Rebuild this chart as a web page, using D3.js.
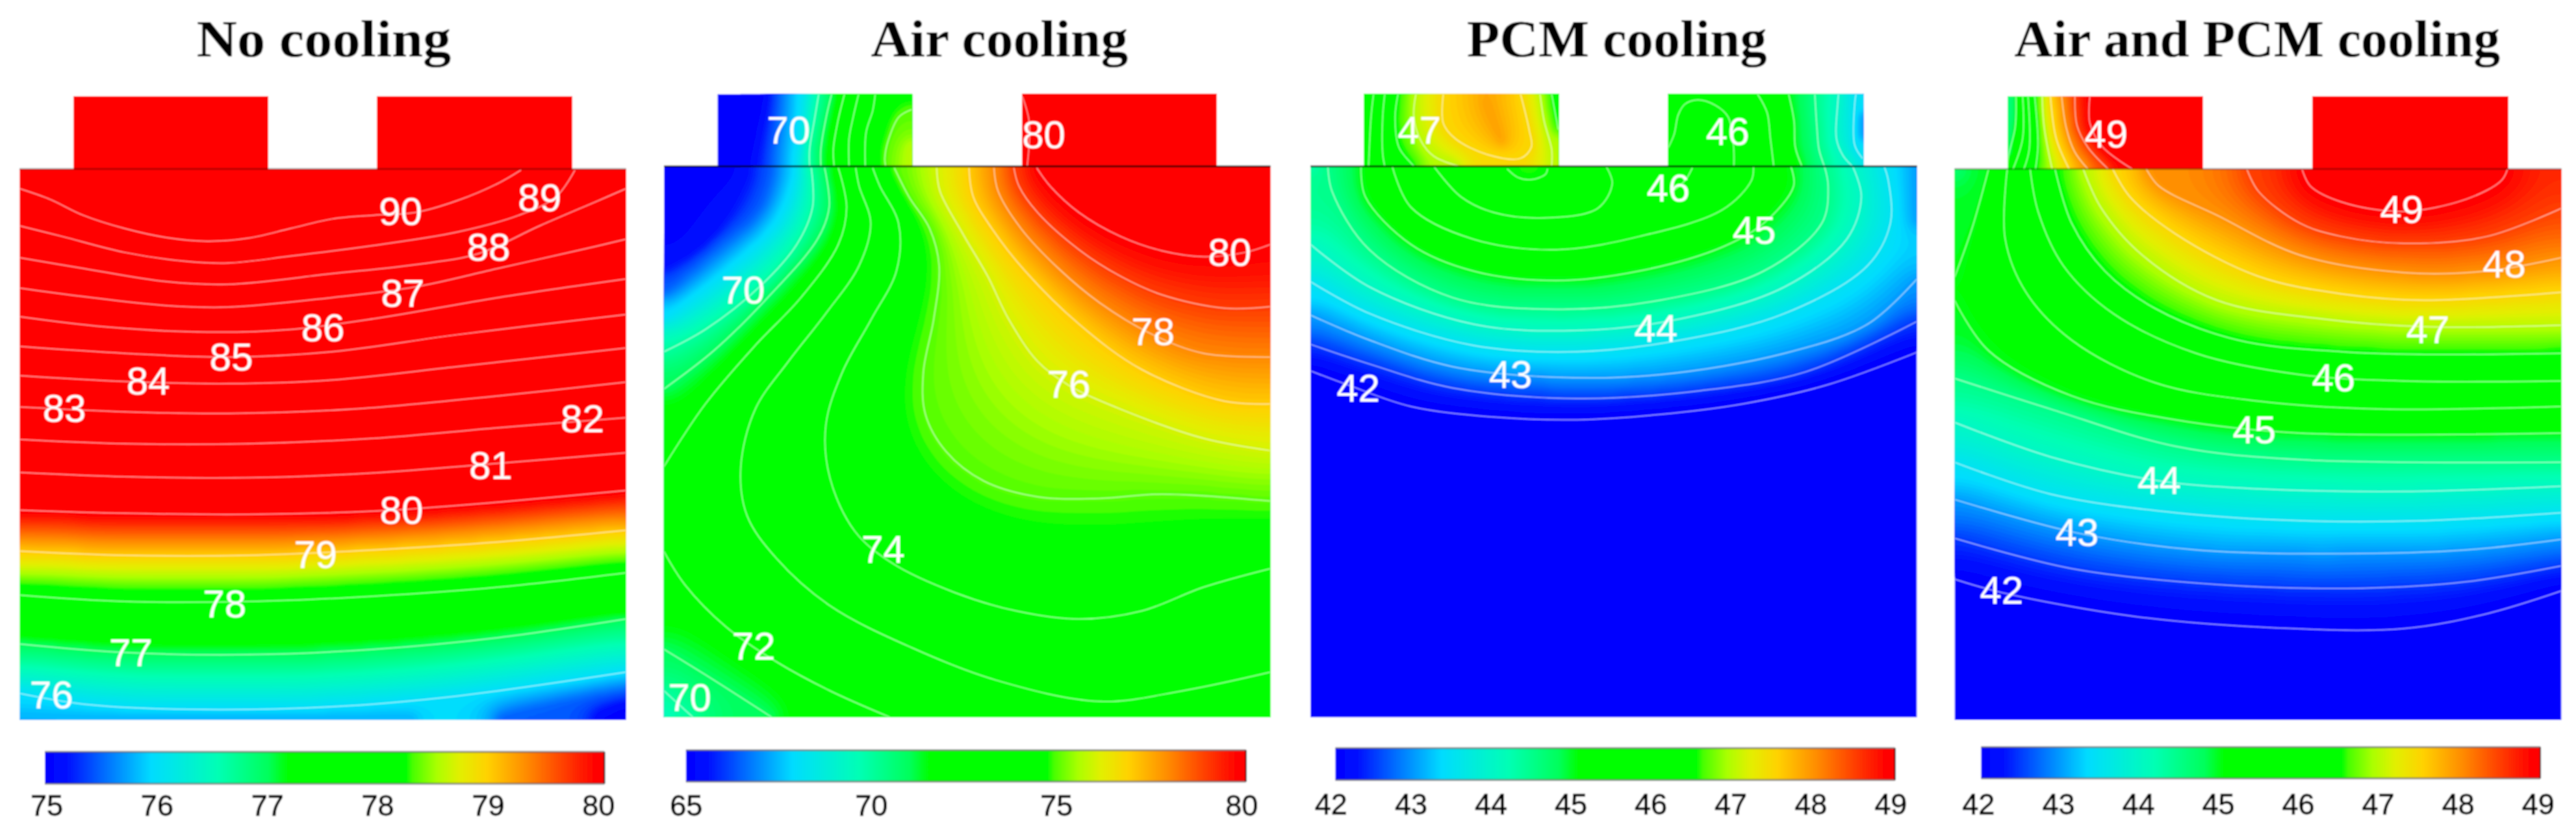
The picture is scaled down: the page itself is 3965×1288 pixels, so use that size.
<!DOCTYPE html>
<html><head><meta charset="utf-8">
<script src="https://cdnjs.cloudflare.com/ajax/libs/d3/7.8.5/d3.min.js"></script>
<style>html,body{margin:0;padding:0;background:#fff}svg{display:block}</style>
</head><body>
<svg id="chart" width="3965" height="1288"></svg>
<script>
// Colour map (position along bar -> colour)
const colorPositions = [0, .04, .10, .19, .31, .40, .435, .645, .657, .70, .74, .79, .86, .93, .985, 1];
const colorValues = ["#0000ff","#0010ff","#0064ff","#00dcff","#00ffb4","#00ff5a","#00ff00","#00ff00","#48ff00","#aaff00","#e1f000","#ffd200","#ff8c00","#ff3c00","#ff0000","#ff0000"];

const titles = ["No cooling", "Air cooling", "PCM cooling", "Air and PCM cooling"];
const colorRanges = [[75, 80], [65, 80], [42, 49], [42, 49]];
const ticks1 = [75, 76, 77, 78, 79, 80];
const ticks2 = [65, 70, 75, 80];
const ticks3 = [42, 43, 44, 45, 46, 47, 48, 49];
const ticks4 = [42, 43, 44, 45, 46, 47, 48, 49];

// ---- Isotherms: [level, [[x,y]...]] in reading units of each panel ----
const noCoolingField = [
 [90,[[47,355],[120,375],[200,405],[300,430],[400,447],[500,454],[600,448],[700,430],[800,412],[900,405],[1000,400],[1100,378],[1200,345],[1255,320]]],
 [89,[[47,425],[150,445],[300,475],[450,492],[550,495],[700,482],[900,462],[1100,437],[1250,405],[1340,370],[1385,320]]],
 [88,[[47,485],[200,505],[400,530],[550,535],[800,515],[1000,498],[1150,478],[1300,425],[1440,378],[1508,355]]],
 [87,[[47,542],[200,558],[400,575],[550,578],[800,560],[1000,540],[1200,505],[1400,470],[1508,450]]],
 [86,[[47,596],[250,615],[500,625],[700,620],[900,600],[1200,560],[1508,525]]],
 [85,[[47,652],[300,665],[550,672],[800,662],[1100,630],[1508,592]]],
 [84,[[47,707],[300,718],[550,722],[800,715],[1100,690],[1508,655]]],
 [83,[[47,766],[300,775],[550,778],[850,770],[1200,745],[1508,719]]],
 [82,[[47,827],[300,835],[600,835],[900,825],[1200,805],[1508,786]]],
 [81,[[47,889],[300,897],[600,899],[900,890],[1200,872],[1508,852]]],
 [80,[[47,960],[300,966],[600,968],[900,962],[1200,945],[1508,923]]],
 [79,[[47,1037],[300,1045],[600,1045],[900,1035],[1200,1020],[1508,998]]],
 [78,[[47,1120],[300,1132],[600,1132],[900,1122],[1200,1105],[1508,1078]]],
 [77,[[47,1212],[300,1228],[600,1232],[900,1222],[1200,1200],[1508,1165]]],
 [76,[[47,1305],[200,1325],[450,1335],[800,1330],[1100,1310],[1508,1265]]]
];
const noCoolingShades = [
 [75.8,[[47,1352],[1000,1352]]],
 [75.5,[[1200,1352],[1380,1320],[1508,1300]]],
 [75.1,[[1440,1352],[1508,1330]]],
 [75,[[1505,1352]]]
];
const noCoolingCellL = [];
const noCoolingShadesL = [[90,[[177,181],[645,318]]]];
const noCoolingCellR = [];
const noCoolingShadesR = [[90,[[909,181],[1378,318]]]];

const airField = [
 [80,[[948,316],[980,350],[1050,400],[1150,445],[1250,472],[1350,483],[1450,475],[1511,460]]],
 [79,[[893,316],[905,350],[950,400],[1050,470],[1150,520],[1250,555],[1400,580],[1511,577]]],
 [78,[[845,316],[855,360],[910,430],[1000,505],[1100,570],[1228,630],[1350,665],[1511,672]]],
 [77,[[785,316],[795,370],[840,430],[920,510],[1050,610],[1200,695],[1400,755],[1511,760]]],
 [76,[[707,316],[715,360],[770,440],[830,520],[880,600],[950,680],[1025,725],[1150,770],[1350,825],[1511,848]]],
 [75,[[605,316],[640,370],[690,430],[713,500],[700,600],[675,700],[680,780],[730,850],[820,905],[950,935],[1100,938],[1250,930],[1511,943]]],
 [74,[[553,316],[570,350],[615,420],[610,510],[550,600],[480,700],[440,800],[450,900],[510,1000],[600,1060],[750,1115],[900,1150],[1050,1165],[1200,1150],[1350,1105],[1511,1070]]],
 [73,[[512,316],[520,350],[548,420],[520,500],[440,590],[350,680],[270,770],[235,880],[250,970],[320,1050],[450,1140],[650,1220],[850,1280],[1100,1320],[1300,1300],[1511,1265]]],
 [72,[[470,316],[490,390],[470,460],[380,560],[270,650],[150,760],[50,878]]],
 [72,[[50,1038],[100,1100],[200,1180],[320,1245],[450,1300],[595,1350]]],
 [71,[[437,316],[448,390],[420,450],[300,560],[170,660],[50,732]]],
 [71,[[50,1222],[150,1270],[310,1350]]],
 [70,[[405,316],[408,390],[370,460],[280,540],[150,620],[50,662]]],
 [70,[[50,1300],[120,1350]]]
];
const airShades = [
 [65,[[50,316],[50,440]]],
 [65,[[50,316],[200,316]]],
 [65.5,[[50,500],[150,450],[220,370],[250,316]]],
 [66.5,[[50,550],[170,470],[280,390],[310,316]]],
 [68,[[50,600],[200,510],[320,420],[365,330],[365,316]]],
 [69.6,[[50,1345],[70,1350]]],
 [84,[[1200,316],[1511,316]]]
];
const airCellL = [
 [70,[[423,177],[412,228],[401,281],[401,313]]],
 [71,[[454,177],[441,220],[428,281],[428,313]]],
 [72,[[485,177],[469,228],[458,281],[460,313]]],
 [73,[[519,177],[506,220],[496,261],[496,313]]],
 [74,[[559,177],[553,208],[537,249],[535,313]]],
 [75,[[647,206],[616,220],[590,265],[582,298],[584,313]]]
];
const airShadesL = [
 [65,[[179,177],[179,313]]],
 [65.2,[[290,177],[250,313]]],
 [68.2,[[386,177],[370,313]]],
 [74.6,[[600,177],[646,177]]],
 [75.8,[[646,270],[646,313]]]
];
const airCellR = [[80,[[913,181],[930,230],[925,313]]]];
const airShadesR = [[84,[[1381,177],[1381,313]]]];

const pcmField = [
 [42,[[58,698],[150,725],[300,765],[500,785],[700,790],[900,780],[1100,760],[1300,725],[1519,663]]],
 [42.5,[[58,648],[200,685],[400,730],[700,750],[1000,735],[1250,700],[1519,605]]],
 [43,[[58,593],[200,640],[400,690],[650,710],[900,705],[1200,665],[1400,610],[1519,525]]],
 [43.5,[[58,530],[200,590],[450,650],[700,662],[950,640],[1200,590],[1400,500],[1455,420],[1450,340],[1440,313]]],
 [44,[[58,460],[200,540],[450,610],[700,622],[950,600],[1200,540],[1350,450],[1385,370],[1364,313]]],
 [44.5,[[100,313],[110,360],[200,470],[400,560],[650,582],[900,565],[1150,510],[1290,420],[1305,350],[1296,313]]],
 [45,[[180,313],[190,370],[300,460],[450,510],[650,528],[850,510],[1050,465],[1150,420],[1222,350],[1215,313]]],
 [45.5,[[255,313],[300,390],[450,450],[650,470],[850,445],[1050,395],[1120,340],[1125,313]]],
 [46,[[355,313],[420,370],[500,400],[620,410],[750,392],[785,345],[770,313]]],
 [46,[[978,316],[960,340],[930,360]]],
 [46.5,[[532,318],[558,334],[590,338],[624,328],[629,318]]]
];
const pcmShades = [
 [44.2,[[58,315]]],
 [43,[[1519,315],[1519,420]]],
 [46.6,[[570,316],[600,316]]],
 [42,[[58,850],[1519,850]]],
 [42,[[58,1100],[1519,1100]]],
 [42,[[58,1345],[1519,1345]]]
];
const pcmCellL = [
 [45.5,[[210,177],[204,220],[198,314]]],
 [46,[[237,177],[232,220],[232,289],[237,313]]],
 [46.5,[[269,177],[262,220],[271,277],[308,313]]],
 [47,[[312,177],[307,220],[324,265],[355,294],[417,313]]],
 [47.5,[[378,177],[378,232],[407,261],[485,291],[564,298],[590,277],[585,245],[564,177]]],
 [47,[[611,177],[621,228],[639,281],[639,313]]],
 [46.5,[[639,177],[655,244]]]
];
const pcmShadesL = [
 [45.2,[[187,177],[187,313]]],
 [47.9,[[480,190],[520,270]]]
];
const pcmCellR = [
 [46,[[919,279],[934,253],[944,216],[960,196],[991,188],[1033,198],[1064,220],[1077,273],[1078,313]]],
 [45.5,[[1135,177],[1158,212],[1166,261],[1174,313]]],
 [45,[[1210,177],[1223,228],[1226,277],[1242,313]]],
 [44.5,[[1273,177],[1278,240],[1283,281],[1296,313]]],
 [44,[[1330,177],[1328,196],[1325,261],[1341,293],[1364,313]]],
 [43.5,[[1372,177],[1369,196],[1369,273],[1388,298]]]
];
const pcmShadesR = [
 [46.2,[[1000,250]]],
 [43,[[1388,220],[1388,260]]]
];

const bothField = [
 [49,[[905,318],[925,350],[1000,380],[1145,398],[1300,375],[1385,340],[1400,318]]],
 [48.5,[[772,318],[800,360],[900,420],[1000,445],[1150,458],[1350,445],[1530,392]]],
 [48,[[530,318],[560,350],[700,405],[900,480],[1150,513],[1350,510],[1530,485]]],
 [47.5,[[449,318],[490,370],[600,440],[800,520],[1000,553],[1200,565],[1530,550]]],
 [47,[[378,318],[420,390],[520,480],[700,565],[950,600],[1200,615],[1530,612]]],
 [46.5,[[310,318],[350,420],[430,510],[550,580],[750,640],[1000,662],[1200,667],[1530,665]]],
 [46,[[250,318],[270,400],[330,500],[450,590],[650,665],[900,705],[1150,717],[1530,717]]],
 [45.5,[[195,318],[190,450],[240,550],[350,640],[550,720],[800,755],[1100,770],[1530,765]]],
 [45,[[150,318],[110,430],[68,522]]],
 [45,[[68,565],[150,660],[350,745],[600,790],[900,815],[1530,815]]],
 [44.5,[[68,712],[300,770],[600,840],[900,865],[1530,870]]],
 [44,[[68,795],[300,860],[561,905],[800,920],[1150,925],[1530,915]]],
 [43.5,[[68,870],[300,930],[600,965],[900,980],[1200,980],[1530,965]]],
 [43,[[68,940],[363,1003],[650,1035],[1000,1042],[1300,1035],[1530,1015]]],
 [42.5,[[68,1013],[350,1070],[700,1100],[1050,1107],[1300,1095],[1530,1065]]],
 [42,[[68,1090],[181,1115],[500,1160],[850,1182],[1150,1183],[1350,1155],[1530,1112]]]
];
const bothShades = [
 [44.6,[[70,320]]],
 [48.65,[[1528,320],[1528,350]]],
 [42,[[68,1350],[1530,1350]]]
];
const bothCellL = [
 [45,[[216,181],[214,240],[198,294],[196,318]]],
 [45.5,[[232,181],[232,261],[209,318]]],
 [46,[[245,181],[248,281],[235,318]]],
 [46.5,[[261,181],[269,273],[263,318]]],
 [47,[[279,181],[284,240],[303,318]]],
 [47.5,[[299,181],[313,261],[344,318]]],
 [48,[[326,181],[337,240],[357,285],[389,318]]],
 [48.5,[[358,181],[363,236],[389,277],[438,318]]],
 [49,[[394,181],[394,232],[425,277],[496,318]]]
];
const bothShadesL = [
 [44.5,[[197,181],[197,290]]],
 [51,[[665,181],[665,318]]]
];
const bothCellR = [];
const bothShadesR = [[51,[[931,181],[1401,318]]]];

// In-picture labels: [text, x, y]
const noCoolingLabels = [["90",965,398],["89",1300,372],["88",1177,465],["87",970,552],["86",778,617],["85",557,672],["84",357,717],["83",155,768],["82",1403,788],["81",1182,876],["80",967,960],["79",760,1043],["78",541,1136],["77",315,1228],["76",124,1307]];
const airLabels = [["70",350,245],["80",965,253],["80",1413,474],["78",1228,624],["76",1025,723],["74",578,1033],["72",266,1216],["70",241,546],["70",112,1312]];
const pcmLabels = [["47",320,245],["46",1063,247],["46",920,354],["45",1127,433],["44",890,618],["43",540,705],["42",173,730]];
const bothLabels = [["49",433,252],["49",1145,394],["48",1392,497],["47",1208,620],["46",981,710],["45",790,808],["44",561,904],["43",363,1002],["42",181,1111]];

// Layout of each panel in its reading units
const layouts = [
 {off:0,    field:[47,1508,318,1355],  cellL:[177,645], cellR:[909,1378], top:181, bar:[108,1456,1415,1475], tick:[112,1441], tickY:1515, titleX:780, titleW:392, edge:.35},
 {off:990,  field:[50,1511,313,1350],  cellL:[179,648], cellR:[913,1381], top:177, bar:[103,1452,1412,1471], tick:[103,1441], tickY:1515, titleX:858, titleW:396, edge:1},
 {off:1980, field:[58,1519,313,1350],  cellL:[187,656], cellR:[920,1390], top:177, bar:[118,1466,1408,1468], tick:[107,1455], tickY:1513, titleX:796, titleW:462, edge:1},
 {off:2965, field:[68,1530,318,1355],  cellL:[196,666], cellR:[931,1401], top:181, bar:[132,1479,1406,1465], tick:[125,1473], tickY:1513, titleX:797, titleW:748, edge:.35}
];
const panelData = [
 {field:noCoolingField, shades:noCoolingShades, cellL:noCoolingCellL, shadesL:noCoolingShadesL, cellR:noCoolingCellR, shadesR:noCoolingShadesR, labels:noCoolingLabels, ticks:ticks1},
 {field:airField, shades:airShades, cellL:airCellL, shadesL:airShadesL, cellR:airCellR, shadesR:airShadesR, labels:airLabels, ticks:ticks2},
 {field:pcmField, shades:pcmShades, cellL:pcmCellL, shadesL:pcmShadesL, cellR:pcmCellR, shadesR:pcmShadesR, labels:pcmLabels, ticks:ticks3},
 {field:bothField, shades:bothShades, cellL:bothCellL, shadesL:bothShadesL, cellR:bothCellR, shadesR:bothShadesR, labels:bothLabels, ticks:ticks4}
];

const svg = d3.select("#chart");
const SANS = "'Liberation Sans', Arial, sans-serif";
const defs = svg.append("defs");
const colormap = d3.scaleLinear().domain(colorPositions).range(colorValues).clamp(true);
const grad = defs.append("linearGradient").attr("id","barGrad");
colorPositions.forEach((p,i)=>grad.append("stop").attr("offset",p).attr("stop-color",colorValues[i]));
const soft = defs.append("filter").attr("id","soft").attr("x",0).attr("y",0).attr("width",1).attr("height",1).attr("filterUnits","objectBoundingBox");
soft.append("feGaussianBlur").attr("stdDeviation",0.8);
const root = svg.append("g").attr("filter","url(#soft)");
root.append("rect").attr("width",3965).attr("height",1288).attr("fill","#fff");

const STEP = 4, PAD = 3, BANDS = 140;
let clipId = 0;

// Relax only the real region; the padding is a copy of its edge so nothing leaks round a line's end.
function solveField(nx, ny, vals, fixed){
  const at=(x,y)=>y*nx+x;
  const ix0=PAD, ix1=nx-PAD-1, iy0=PAD, iy1=ny-PAD-1;
  let sum=0,cnt=0;
  for(let i=0;i<vals.length;i++) if(fixed[i]){sum+=vals[i];cnt++;}
  const mean = cnt?sum/cnt:0;
  for(let i=0;i<vals.length;i++) if(!fixed[i]) vals[i]=mean;
  const omega = 1.93;
  for(let it=0;it<900;it++){
    for(let y=iy0;y<=iy1;y++){
      for(let x=ix0;x<=ix1;x++){
        const k=at(x,y);
        if(fixed[k]) continue;
        const l=vals[x>ix0?k-1:k], r=vals[x<ix1?k+1:k], u=vals[y>iy0?k-nx:k], d=vals[y<iy1?k+nx:k];
        vals[k]+=omega*((l+r+u+d)/4-vals[k]);
      }
    }
  }
  for(let pass=0;pass<2;pass++){
    const c=vals.slice();
    for(let y=iy0;y<=iy1;y++)for(let x=ix0;x<=ix1;x++){
      let s=0,n=0;
      for(let dy=-1;dy<=1;dy++)for(let dx=-1;dx<=1;dx++){
        const X=x+dx,Y=y+dy;
        if(X>=ix0&&X<=ix1&&Y>=iy0&&Y<=iy1){s+=c[at(X,Y)];n++;}
      }
      vals[at(x,y)]=s/n;
    }
  }
  for(let y=0;y<ny;y++)for(let x=0;x<nx;x++){
    vals[at(x,y)]=vals[at(Math.min(ix1,Math.max(ix0,x)),Math.min(iy1,Math.max(iy0,y)))];
  }
}

function drawRegion(parent, rx0, rx1, ry0, ry1, lines, shades, sx, sy, range){
  const X0=sx(rx0), X1=sx(rx1), Y0=sy(ry0), Y1=sy(ry1);
  const id="clip"+(clipId++);
  defs.append("clipPath").attr("id",id).append("rect").attr("x",X0).attr("y",Y0).attr("width",X1-X0).attr("height",Y1-Y0);
  const g=parent.append("g").attr("clip-path",`url(#${id})`);
  const gx0=X0-PAD*STEP, gy0=Y0-PAD*STEP;
  const nx=Math.ceil((X1-X0)/STEP)+2*PAD, ny=Math.ceil((Y1-Y0)/STEP)+2*PAD;
  const vals=new Float64Array(nx*ny), fixed=new Uint8Array(nx*ny);
  const lineGen=d3.line().x(d=>sx(d[0])).y(d=>sy(d[1])).curve(d3.curveCatmullRom.alpha(.5));
  const stamp=(px,py,v)=>{
    const ix=Math.max(PAD,Math.min(nx-PAD-1,Math.floor((px-gx0)/STEP))), iy=Math.max(PAD,Math.min(ny-PAD-1,Math.floor((py-gy0)/STEP)));
    vals[iy*nx+ix]=v; fixed[iy*nx+ix]=1;
  };
  const probe=svg.append("path").attr("fill","none");
  lines.concat(shades).forEach(([level,pts])=>{
    if(pts.length===1){ stamp(sx(pts[0][0]),sy(pts[0][1]),level); return; }
    probe.attr("d",lineGen(pts));
    const node=probe.node(), L=node.getTotalLength();
    for(let s=0;s<=L;s+=1.5){ const p=node.getPointAtLength(s); stamp(p.x,p.y,level); }
  });
  probe.remove();
  solveField(nx,ny,vals,fixed);
  const [lo,hi]=range;
  const color=v=>colormap((v-lo)/(hi-lo));
  const thresholds=d3.range(1,BANDS+1).map(i=>lo+(hi-lo)*i/BANDS);
  const toPx=d3.geoTransform({point(x,y){this.stream.point(gx0+x*STEP,gy0+y*STEP);}});
  const path=d3.geoPath(toPx);
  g.append("rect").attr("x",X0).attr("y",Y0).attr("width",X1-X0).attr("height",Y1-Y0).attr("fill",color(lo));
  const sets=d3.contours().size([nx,ny]).thresholds(thresholds)(Array.from(vals)).filter(c=>c.coordinates.length);
  g.selectAll("path.band").data(sets).join("path").attr("class","band").attr("d",path).attr("fill",d=>color(d.value));
  g.selectAll("path.iso").data(lines).join("path").attr("class","iso")
    .attr("d",d=>lineGen(d[1])).attr("fill","none").attr("stroke","#fff").attr("stroke-width",1.5).attr("stroke-opacity",.62);
}

panelData.forEach((d,i)=>{
  const L=layouts[i], range=colorRanges[i];
  const sx=d3.scaleLinear().domain([0,1565]).range([L.off,L.off+1000]);
  const sy=d3.scaleLinear().domain([0,1223*1.288]).range([0,1288]);
  const g=root.append("g");
  const [fx0,fx1,fy0,fy1]=L.field;
  drawRegion(g,L.cellL[0],L.cellL[1],L.top,fy0,d.cellL,d.shadesL,sx,sy,range);
  drawRegion(g,L.cellR[0],L.cellR[1],L.top,fy0,d.cellR,d.shadesR,sx,sy,range);
  drawRegion(g,fx0,fx1,fy0,fy1,d.field,d.shades,sx,sy,range);
  g.append("line").attr("x1",sx(fx0)).attr("x2",sx(fx1)).attr("y1",sy(fy0)).attr("y2",sy(fy0))
    .attr("stroke","#000").attr("stroke-opacity",L.edge).attr("stroke-width",2.5);

  // title
  g.append("text").attr("x",sx(L.titleX)).attr("y",sy(106)).attr("text-anchor","middle")
    .attr("font-family","'Liberation Serif', serif").attr("font-weight",700).attr("font-size",80)
    .attr("textLength",L.titleW).attr("lengthAdjust","spacingAndGlyphs").attr("fill","#000").text(titles[i]);

  // in-field labels
  g.selectAll("text.lab").data(d.labels).join("text").attr("class","lab")
    .attr("x",l=>sx(l[1])).attr("y",l=>sy(l[2])).attr("dy","0.35em").attr("text-anchor","middle")
    .attr("font-family",SANS).attr("font-size",60).attr("fill","#fff").text(l=>l[0]);

  // legend bar
  const [bx0,bx1,by0,by1]=L.bar;
  g.append("rect").attr("x",sx(bx0)).attr("y",sy(by0)).attr("width",sx(bx1)-sx(bx0)).attr("height",sy(by1)-sy(by0)).attr("fill","url(#barGrad)");
  [by0,by1].forEach(yy=>g.append("line").attr("x1",sx(bx0)).attr("x2",sx(bx1)).attr("y1",sy(yy)).attr("y2",sy(yy)).attr("stroke","#555").attr("stroke-opacity",.6).attr("stroke-width",3));
  g.append("line").attr("x1",sx(bx1)).attr("x2",sx(bx1)).attr("y1",sy(by0)).attr("y2",sy(by1)).attr("stroke","#000").attr("stroke-width",2);

  const tickScale=d3.scaleLinear().domain(range).range([sx(L.tick[0]),sx(L.tick[1])]);
  const axis=d3.axisBottom(tickScale).tickValues(d.ticks).tickFormat(d3.format("d")).tickSize(0).tickPadding(0);
  const ag=g.append("g").attr("transform",`translate(0,${sy(L.tickY)})`).call(axis);
  ag.select(".domain").remove();
  ag.selectAll("text").attr("y",0).attr("dy","0.35em").attr("font-family",SANS).attr("font-size",45)
    .attr("fill","#000").attr("stroke","#000").attr("stroke-width",0.8);
});
</script>
</body></html>
